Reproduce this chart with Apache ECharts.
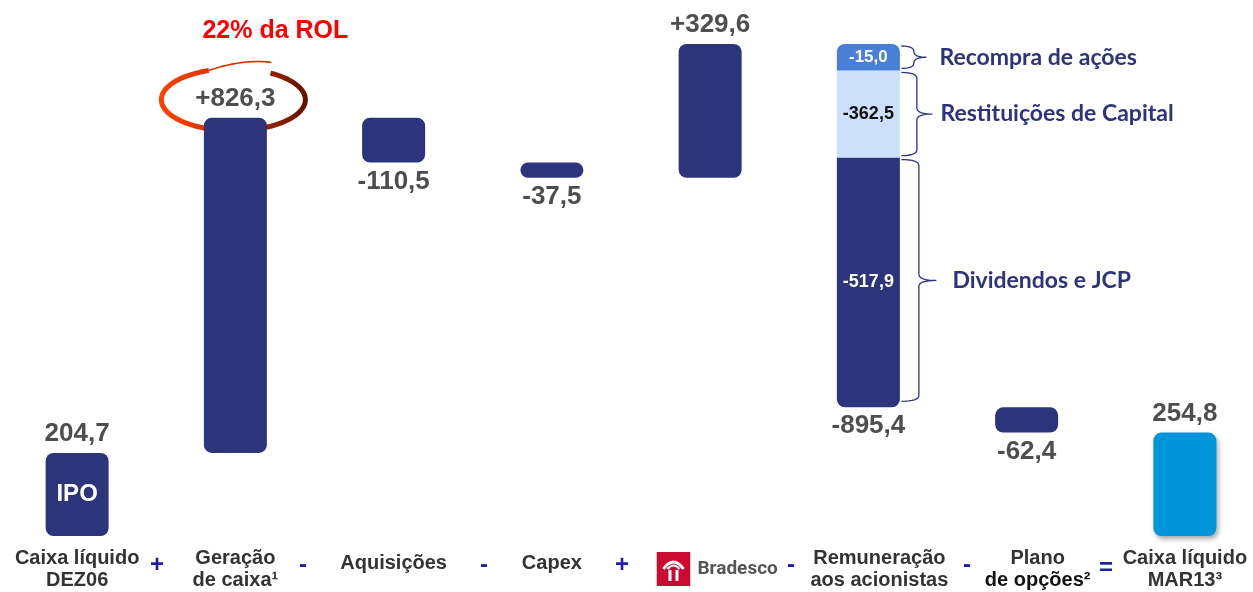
<!DOCTYPE html>
<html>
<head>
<meta charset="utf-8">
<script src="https://cdn.jsdelivr.net/npm/echarts@6/dist/echarts.min.js"></script>
<style>
html, body { margin: 0; padding: 0; background: #fff; }
#chart { width: 1253px; height: 592px; }
</style>
</head>
<body>
<div id="chart"></div>
<script>
const categories = ['Caixa líquido\nDEZ06', 'Geração\nde caixa¹', 'Aquisições', 'Capex', 'Bradesco', 'Remuneração\naos acionistas', 'Plano\nde opções²', 'Caixa líquido\nMAR13³']
const startCash = 204.7
const steps = [826.3, -110.5, -37.5, 329.6, -895.4, -62.4]
const endCash = 254.8
// remuneração split, bottom to top
const payoutNames = ['Dividendos e JCP', 'Restituições de Capital', 'Recompra de ações']
const payoutValues = [-517.9, -362.5, -15.0]
// segment heights as drawn on the slide (not to scale there), same total
const payoutDrawn = [615.4, 214.8, 65.2]
const operators = ['+', '-', '-', '+', '-', '-', '=']

const NAVY = '#2c347c'
const fmt = (v, sign) => (sign && v > 0 ? '+' : v < 0 ? '-' : '') + Math.abs(v).toFixed(1).replace('.', ',')

// waterfall levels
const lo = [0], hi = [startCash]
let cur = startCash
steps.forEach((s) => {
  lo.push(s > 0 ? cur : cur + s)
  hi.push(s > 0 ? cur + s : cur)
  cur += s
})
lo.push(0)
hi.push(endCash)
const PAY = 5

const mainData = lo.map((l, i) => {
  const item = { value: i === PAY ? payoutDrawn[0] : hi[i] - l }
  if (i === 0) item.label = { show: true, formatter: 'IPO', fontSize: 24 }
  if (i === PAY) item.itemStyle = { borderRadius: [0, 0, 8, 8] }
  if (i === PAY) item.label = { show: true, formatter: fmt(payoutValues[0]), fontSize: 18 }
  if (i === categories.length - 1) item.itemStyle = {
    color: '#0095db', shadowColor: 'rgba(0,0,0,0.35)', shadowBlur: 5, shadowOffsetX: 2, shadowOffsetY: 3,
  }
  return item
})
const only = (v) => categories.map((c, i) => (i === PAY ? v : '-'))

const labelData = categories.map((c, i) => {
  const isStep = i > 0 && i < categories.length - 1
  const v = i === 0 ? startCash : isStep ? steps[i - 1] : endCash
  const down = isStep && v < 0
  return { value: [i, down ? lo[i] : hi[i]], text: fmt(v, isStep), label: { position: down ? 'bottom' : 'top' } }
})

const logo = 'data:image/svg+xml;utf8,' + encodeURIComponent(
  "<svg xmlns='http://www.w3.org/2000/svg' width='34' height='34'><rect width='34' height='34' fill='#cc092f'/>" +
  "<path d='M7 17 Q17 3 27 17' stroke='#fff' stroke-width='3' fill='none'/>" +
  "<path d='M11 17 Q17 10 23 17' stroke='#fff' stroke-width='2' fill='none'/>" +
  "<rect x='12' y='18' width='3' height='11' fill='#fff'/><rect x='19' y='18' width='3' height='11' fill='#fff'/></svg>")

const chart = echarts.init(document.getElementById('chart'))
chart.setOption({
  animation: false,
  grid: { left: -2, width: 1266, top: 44, bottom: 56, outerBoundsMode: 'none', containLabel: false },
  xAxis: {
    type: 'category',
    data: categories,
    axisLine: { show: false },
    axisTick: { show: false },
    axisLabel: {
      interval: 0,
      margin: 33,
      verticalAlign: 'middle',
      fontFamily: 'Liberation Sans',
      fontWeight: 'bold',
      fontSize: 20,
      lineHeight: 22,
      color: '#333',
      formatter: (v) => {
        if (v === 'Bradesco') return '{sp|}{logo|}{brand|Bradesco}'
        if (v.startsWith('Plano')) return '{sp2|}Plano\n{sp2|}{dark|de opções²}'
        if (v.startsWith('Remun')) return '{sp2|}Remuneração\n{sp2|}aos acionistas'
        if (!v.includes('\n')) return '{one|' + v + '}'
        return v
      },
      rich: {
        one: { fontFamily: 'Liberation Sans', fontWeight: 'bold', fontSize: 20, color: '#333', padding: [0, 0, 12, 0] },
        sp: { width: 14 },
        sp2: { width: 22 },
        logo: { width: 34, height: 34, backgroundColor: { image: logo } },
        brand: { fontFamily: 'Roboto', fontWeight: 'bold', fontSize: 19, color: '#555', padding: [0, 0, 0, 7] },
        dark: { fontFamily: 'Liberation Sans', fontWeight: 'bold', fontSize: 20, color: '#111' },
      },
    },
  },
  yAxis: { type: 'value', min: 0, max: 1212.6, show: false },
  series: [
    {
      name: 'base', type: 'bar', stack: 'w', barWidth: 63, silent: true,
      itemStyle: { color: 'transparent' },
      data: lo,
    },
    {
      name: 'main', type: 'bar', stack: 'w', barWidth: 63,
      itemStyle: { color: NAVY, borderRadius: 8 },
      label: { show: false, position: 'inside', color: '#fff', fontFamily: 'Liberation Sans', fontWeight: 'bold' },
      data: mainData,
    },
    {
      name: payoutNames[1], type: 'bar', stack: 'w', barWidth: 63,
      itemStyle: { color: '#cde0fb' },
      label: { show: true, position: 'inside', formatter: fmt(payoutValues[1]), color: '#111', fontFamily: 'Liberation Sans', fontWeight: 'bold', fontSize: 18 },
      data: only(payoutDrawn[1]),
    },
    {
      name: payoutNames[2], type: 'bar', stack: 'w', barWidth: 63,
      itemStyle: { color: '#4a7fd6', borderRadius: [8, 8, 0, 0] },
      label: { show: true, position: 'inside', formatter: fmt(payoutValues[2]), color: '#fff', fontFamily: 'Liberation Sans', fontWeight: 'bold', fontSize: 17 },
      data: only(payoutDrawn[2]),
    },
    {
      name: 'values', type: 'scatter', symbolSize: 0, silent: true, z: 5,
      label: {
        show: true, distance: 6, formatter: (p) => p.data.text,
        color: '#222', fontFamily: 'Liberation Sans', fontWeight: 'bold', fontSize: 26,
      },
      data: labelData,
    },
  ],
})

// decorations placed from the drawn chart
const px = (i, v) => chart.convertToPixel({ gridIndex: 0 }, [i, v])
const graphics = []

// ellipse around the cash generation value
const [gx, gy] = px(1, hi[1])
const cx = gx - 2, cy = gy - 18
const ring = [], tail = []
for (let a = -59; a <= 250; a += 3) {
  const t = a * Math.PI / 180
  ring.push([cx + 72 * Math.cos(t), cy + 31 * Math.sin(t)])
}
for (let a = 250; a <= 300; a += 2) {
  const t = a * Math.PI / 180, f = (a - 250) / 50
  tail.push([cx + (72 + 4 * f) * Math.cos(t), cy + (31 + 12 * f) * Math.sin(t)])
}
const ringColor = new echarts.graphic.LinearGradient(0, 0, 1, 0, [
  { offset: 0, color: '#ff4200' },
  { offset: 0.55, color: '#c72a00' },
  { offset: 1, color: '#5e1200' },
])
graphics.push({ type: 'polyline', shape: { points: ring }, style: { stroke: ringColor, lineWidth: 5, fill: null }, z: 1 })
graphics.push({ type: 'polyline', shape: { points: tail }, style: { stroke: '#d83300', lineWidth: 1.6, fill: null }, z: 1 })
graphics.push({
  type: 'text', x: gx + 40, y: gy - 87,
  style: { text: '22% da ROL', fill: '#ff0000', font: 'bold 25px "Liberation Sans"', align: 'center', verticalAlign: 'middle' },
})

// curly brace as a polyline made of quadratic curves
const quad = (pts, p0, c, p1) => {
  for (let s = 0; s <= 8; s++) {
    const t = s / 8, u = 1 - t
    pts.push([u * u * p0[0] + 2 * u * t * c[0] + t * t * p1[0], u * u * p0[1] + 2 * u * t * c[1] + t * t * p1[1]])
  }
}
const braceGeom = (x, y0, y1, w) => {
  const xm = x + w * 0.5, xt = x + w, ym = (y0 + y1) / 2, r = Math.min(6, (y1 - y0) / 4)
  const pts = []
  quad(pts, [x, y0], [xm, y0], [xm, y0 + r])
  quad(pts, [xm, ym - r], [xm, ym], [xt, ym])
  quad(pts, [xt, ym], [xm, ym], [xm, ym + r])
  quad(pts, [xm, y1 - r], [xm, y1], [x, y1])
  return pts
}

// braces for the payout split
const [sx] = px(PAY, 0)
let acc = lo[PAY]
const bounds = [acc]
payoutDrawn.forEach((d) => { acc += d; bounds.push(acc) })
const braceW = [35, 31, 25]
const textGap = [16, 8, 13]
for (let k = 0; k < 3; k++) {
  const yb = px(PAY, bounds[k])[1], yt = px(PAY, bounds[k + 1])[1]
  const y0 = yt + 2, y1 = yb - (k === 0 ? 6 : 2)
  const x = sx + 33, w = braceW[k]
  graphics.push({
    type: 'polyline',
    shape: { points: braceGeom(x, y0, y1, w) },
    style: { stroke: NAVY, lineWidth: 1.3, fill: null },
  })
  graphics.push({
    type: 'text', x: x + w + textGap[k], y: (y0 + y1) / 2,
    style: { text: payoutNames[k], fill: NAVY, font: 'bold 23px Lato', verticalAlign: 'middle' },
  })
}

// operators between the bottom labels
const opX = [157, 303, 484, 622, 791, 967, 1106]
operators.forEach((o, k) => {
  graphics.push({
    type: 'text', x: opX[k], y: o === '=' ? 568 : 565,
    style: { text: o, fill: '#1e1ea8', font: 'bold 24px "Liberation Sans"', align: 'center', verticalAlign: 'middle' },
  })
})

chart.setOption({ graphic: graphics })
</script>
</body>
</html>
